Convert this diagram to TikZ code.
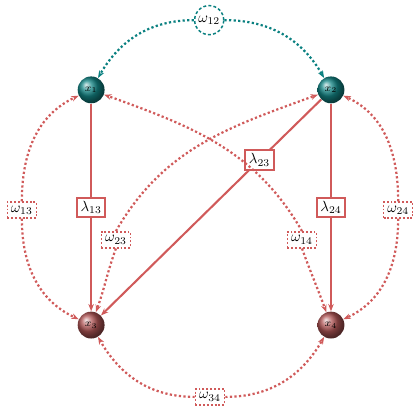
\documentclass[tikz,border=0pt]{standalone}
\usetikzlibrary{arrows.meta}
\definecolor{latteal}{HTML}{0A8080}
\definecolor{ballteal}{HTML}{138585}
\definecolor{obsred}{HTML}{D05A5A}
\definecolor{obsball}{HTML}{B05555}

\begin{document}
\begin{tikzpicture}[
    var/.style={
        circle, shading=ball, ball color=#1, minimum size=0.64cm,
        inner sep=0pt, font=\scriptsize, text=black
    },
    load/.style={
        draw=obsred, fill=white, line width=1.3pt, inner sep=2.5pt,
        text=black, font=\normalsize
    },
    cov/.style={
        draw=#1, fill=white, dash pattern=on 1.3pt off 1.3pt, line width=1pt,
        inner sep=2.5pt, text=black, font=\normalsize
    },
    reg/.style={
        -{Stealth[length=5pt]}, line width=1.4pt, color=obsred
    },
    covarr/.style={
        -{Stealth[length=5pt]}, dash pattern=on 1.5pt off 1.6pt,
        line width=1.5pt, color=#1
    }
]
\useasboundingbox (0,0) rectangle (10,10);

% Variables
\node[var=ballteal] (x1) at (2.17, 7.86) {$x_1$};
\node[var=ballteal] (x2) at (7.88, 7.86) {$x_2$};
\node[var=obsball] (x3) at (2.17, 2.26) {$x_3$};
\node[var=obsball] (x4) at (7.88, 2.26) {$x_4$};

% Regressions
\draw[reg] (x1) -- node[load] (l13) {$\lambda_{13}$} (x3);
\draw[reg] (x2) -- node[load] (l24) {$\lambda_{24}$} (x4);
\draw[reg] (x2) -- node[load, pos=0.28] (l23) {$\lambda_{23}$} (x3);

% Covariance labels
\node[cov=latteal, circle, dash pattern=on 2pt off 1.5pt, inner sep=1.5pt] (w12) at (4.98, 9.52) {$\omega_{12}$};
\node[cov=obsred] (w13) at (0.52, 5.0) {$\omega_{13}$};
\node[cov=obsred] (w24) at (9.48, 5.0) {$\omega_{24}$};
\node[cov=obsred] (w34) at (5.0, 0.55) {$\omega_{34}$};
\node[cov=obsred] (w23) at (2.76, 4.29) {$\omega_{23}$};
\node[cov=obsred] (w14) at (7.19, 4.29) {$\omega_{14}$};

% Covariances
\draw[covarr=latteal] (w12.west) to[out=180, in=60] (x1);
\draw[covarr=latteal] (w12.east) to[out=0, in=120] (x2);
\draw[covarr=obsred] (w13.north) to[out=90, in=205] (x1);
\draw[covarr=obsred] (w13.south) to[out=-90, in=155] (x3);
\draw[covarr=obsred] (w24.north) to[out=90, in=-25] (x2);
\draw[covarr=obsred] (w24.south) to[out=-90, in=25] (x4);
\draw[covarr=obsred] (w34.west) to[out=180, in=-60] (x3);
\draw[covarr=obsred] (w34.east) to[out=0, in=240] (x4);
\draw[covarr=obsred] (w23.north) to[out=60, in=200] (x2);
\draw[covarr=obsred] (w23.south) to[out=-110, in=70] (x3);
\draw[covarr=obsred] (w14.north) to[out=120, in=-20] (x1);
\draw[covarr=obsred] (w14.south) to[out=-70, in=110] (x4);

\end{tikzpicture}
\end{document}
